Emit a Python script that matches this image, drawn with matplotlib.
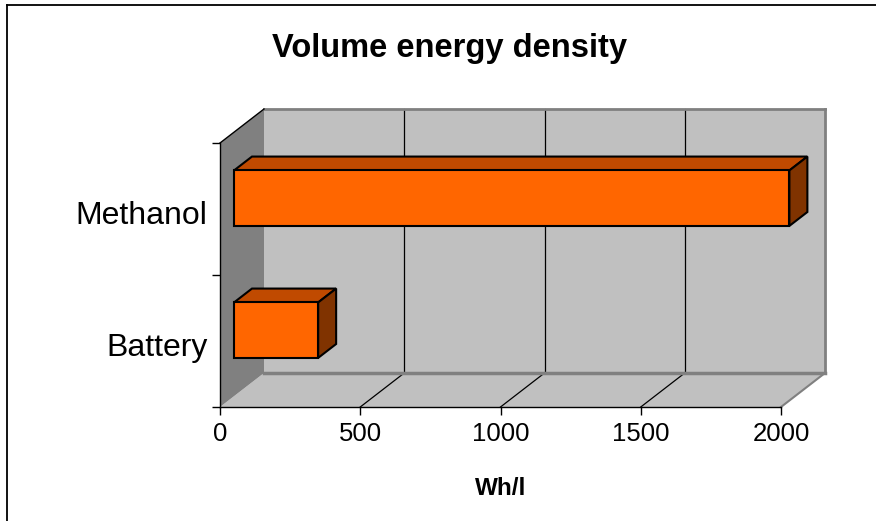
"""Volume energy density: Excel-style 3-D horizontal bar chart."""
import matplotlib
matplotlib.use("Agg")
import matplotlib.pyplot as plt
from matplotlib.patches import Polygon
from matplotlib.lines import Line2D

plt.rcParams["font.family"] = ["Liberation Sans", "DejaVu Sans"]

categories = ["Battery", "Methanol"]
values = [300, 1980]
xticks = [0, 500, 1000, 1500, 2000]
title = "Volume energy density"
xlabel = "Wh/l"

W, H, DPI = 876, 521, 100
fig = plt.figure(figsize=(W / DPI, H / DPI), dpi=DPI)
# front plane of the 3-D box, in pixels: x 220..781, y 143..407
ax = fig.add_axes([220 / W, (H - 407) / H, 561 / W, 264 / H])
XMAX, YMAX = 2000, len(categories)
ax.set_xlim(0, XMAX)
ax.set_ylim(0, YMAX)
ax.patch.set_visible(False)

# depth offset of the back plane, expressed in data units (44 px right, 34 px up)
DX = XMAX * 44 / 561
DY = YMAX * 34 / 264


def p3(v, c, f):
    return (v + f * DX, c + f * DY)


def face(pts, **kw):
    ax.add_patch(Polygon([p3(*p) for p in pts], closed=True, clip_on=False, **kw))


def edge(a, b, **kw):
    (x0, y0), (x1, y1) = p3(*a), p3(*b)
    ax.add_line(Line2D([x0, x1], [y0, y1], clip_on=False, **kw))


WALL, SIDE = "#C0C0C0", "#808080"
# back wall, floor, left wall
face([(0, 0, 1), (XMAX, 0, 1), (XMAX, YMAX, 1), (0, YMAX, 1)], fc=WALL, ec="none", zorder=0)
face([(0, 0, 0), (XMAX, 0, 0), (XMAX, 0, 1), (0, 0, 1)], fc=WALL, ec="none", zorder=0)
face([(0, 0, 0), (0, YMAX, 0), (0, YMAX, 1), (0, 0, 1)], fc=SIDE, ec="none", zorder=0)

# gridlines on back wall and floor
for v in xticks[1:-1]:
    edge((v, 0, 1), (v, YMAX, 1), color="black", lw=0.9, zorder=1)
    edge((v, 0, 0), (v, 0, 1), color="black", lw=0.9, zorder=1)

# box edges
edge((0, YMAX, 1), (XMAX, YMAX, 1), color=SIDE, lw=2, zorder=1)
edge((XMAX, YMAX, 1), (XMAX, 0, 1), color=SIDE, lw=2, zorder=1)
edge((0, 0, 1), (XMAX, 0, 1), color=SIDE, lw=2.5, zorder=1)
edge((XMAX, 0, 0), (XMAX, 0, 1), color=SIDE, lw=1.5, zorder=1)
edge((0, YMAX, 0), (0, YMAX, 1), color="black", lw=1, zorder=1)

# bars
F0, F1 = 0.318, 0.727
HALF = 0.21
FRONT, TOP, RIGHT = "#FF6600", "#C04A00", "#803300"
for i, v in enumerate(values):
    c = i + 0.5
    kw = dict(ec="black", lw=1.5, zorder=3, joinstyle="miter")
    face([(0, c + HALF, F0), (v, c + HALF, F0), (v, c + HALF, F1), (0, c + HALF, F1)], fc=TOP, **kw)
    face([(v, c - HALF, F0), (v, c + HALF, F0), (v, c + HALF, F1), (v, c - HALF, F1)], fc=RIGHT, **kw)
    face([(0, c - HALF, F0), (v, c - HALF, F0), (v, c + HALF, F0), (0, c + HALF, F0)], fc=FRONT, **kw)

# axes: spines and ticks
for s in ("top", "right"):
    ax.spines[s].set_visible(False)
for s in ("bottom", "left"):
    ax.spines[s].set_linewidth(1)
    ax.spines[s].set_zorder(2)
ax.set_xticks(xticks)
ax.set_xticklabels([str(t) for t in xticks], fontsize=18.5)
ax.tick_params(axis="x", direction="out", length=6, width=1, pad=5)
ax.set_yticks(range(YMAX + 1))
ax.set_yticklabels([])
ax.tick_params(axis="y", which="major", direction="out", length=6, width=1)
ax.set_yticks([i + 0.5 - 0.025 for i in range(YMAX)], minor=True)
ax.set_yticklabels(categories, minor=True, fontsize=23)
ax.tick_params(axis="y", which="minor", length=0, pad=9)

ax.set_xlabel(xlabel, fontsize=17.5, fontweight="bold", labelpad=22)
fig.text(449.5 / W, 1 - 49 / H, title, ha="center", va="center",
         fontsize=23.5, fontweight="bold")

# outer chart border (cropped on the right and bottom)
fig.add_artist(Line2D([7 / W, 7 / W], [0, 1 - 5 / H], color="black", lw=1.3))
fig.add_artist(Line2D([7 / W, 1], [1 - 5 / H, 1 - 5 / H], color="black", lw=1.3))

fig.savefig("out.png", dpi=DPI)
